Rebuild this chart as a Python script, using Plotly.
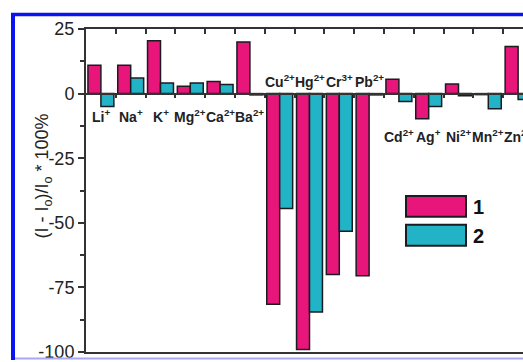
import plotly.graph_objects as go

ions = ["Li<sup>+</sup>", "Na<sup>+</sup>", "K<sup>+</sup>", "Mg<sup>2+</sup>", "Ca<sup>2+</sup>",
        "Ba<sup>2+</sup>", "Cu<sup>2+</sup>", "Hg<sup>2+</sup>", "Cr<sup>3+</sup>", "Pb<sup>2+</sup>",
        "Cd<sup>2+</sup>", "Ag<sup>+</sup>", "Ni<sup>2+</sup>", "Mn<sup>2+</sup>", "Zn<sup>2+</sup>"]
series1 = [11, 11, 20.5, 2.8, 4.7, 20, -81.5, -99, -70, -70.5, 5.6, -9.7, 3.7, -0.4, 18.2]
series2 = [-5, 6, 4.1, 4.1, 3.5, -0.5, -44.5, -84.5, -53.3, -0.5, -3.1, -5, -0.8, -5.9, -2.3]
label_y = [-8.5, -8.5, -8.5, -8.5, -8.5, -8.5, 5, 5, 5, 5, -16.5, -16.5, -16.5, -16.5, -16.5]
y_ticks = [25, 0, -25, -50, -75, -100]

xs = list(range(len(ions)))
W, H = 523, 362
L, R, T, B = 86, 0, 29, 8
pw, ph = W - L - R, H - T - B

def px(x):
    return (x - L) / pw

def py(y):
    return (H - B - y) / ph

pink = "#E8157B"
cyan = "#22B3C6"
edge = "#1b1b22"
font_fam = "Arial, Liberation Sans"

fig = go.Figure()
fig.add_trace(go.Bar(x=xs, y=series1, name="1", marker=dict(color=pink, line=dict(color=edge, width=1.5))))
fig.add_trace(go.Bar(x=xs, y=series2, name="2", marker=dict(color=cyan, line=dict(color=edge, width=1.5))))
fig.add_trace(go.Scatter(x=[-0.5], y=[0], xaxis="x2", mode="markers", marker=dict(opacity=0), hoverinfo="skip"))
fig.add_trace(go.Scatter(x=[-0.5], y=[0], xaxis="x3", mode="markers", marker=dict(opacity=0), hoverinfo="skip"))

xr = [-0.5, -0.5 + pw / 29.8]
bounds = [i + 0.5 for i in range(len(ions))]

for x, lab, yy in zip(xs, ions, label_y):
    fig.add_annotation(x=x, y=yy, text="<b>" + lab + "</b>", showarrow=False,
                       font=dict(family=font_fam, size=14, color="#222"),
                       xanchor="center", yanchor="middle")

shapes = []
shapes.append(dict(type="line", xref="paper", yref="paper", x0=px(13), x1=px(13), y0=py(13), y1=py(362),
                   line=dict(color="#0A14F0", width=4)))
shapes.append(dict(type="line", xref="paper", yref="paper", x0=px(11), x1=px(523), y0=py(14.5), y1=py(14.5),
                   line=dict(color="#0A14F0", width=3.5)))
shapes.append(dict(type="line", xref="paper", yref="paper", x0=px(15), x1=px(523), y0=py(360.5), y1=py(360.5),
                   line=dict(color="#A8A8F4", width=2)))
shapes.append(dict(type="rect", xref="paper", yref="paper", x0=px(406), x1=px(466), y0=py(197), y1=py(218),
                   fillcolor=pink, line=dict(color=edge, width=2)))
shapes.append(dict(type="rect", xref="paper", yref="paper", x0=px(406), x1=px(466), y0=py(226), y1=py(247),
                   fillcolor=cyan, line=dict(color=edge, width=2)))
fig.add_annotation(xref="paper", yref="paper", x=px(471), y=py(208), text="<b>1</b>", showarrow=False,
                   xanchor="left", font=dict(family=font_fam, size=20, color="#111"))
fig.add_annotation(xref="paper", yref="paper", x=px(471), y=py(237), text="<b>2</b>", showarrow=False,
                   xanchor="left", font=dict(family=font_fam, size=20, color="#111"))
fig.add_annotation(xref="paper", yref="paper", x=px(30), y=py(177),
                   text="(I - I<sub>o</sub>)/I<sub>o</sub> * 100%", textangle=-90, showarrow=False,
                   font=dict(family=font_fam, size=18, color="#222"))

fig.update_layout(
    width=W, height=H, margin=dict(l=L, r=R, t=T, b=B),
    paper_bgcolor="white", plot_bgcolor="white",
    barmode="group", bargap=0.13, bargroupgap=0, showlegend=False,
    shapes=shapes,
    xaxis=dict(range=xr, showticklabels=False, ticks="", showgrid=False, zeroline=False,
               showline=True, linecolor="#333", linewidth=2),
    xaxis2=dict(overlaying="x", side="top", anchor="y", range=xr, tickvals=bounds, ticks="inside",
                ticklen=5, tickwidth=1.5, tickcolor="#333", showticklabels=False, showgrid=False,
                zeroline=False, showline=True, linecolor="#333", linewidth=2),
    xaxis3=dict(overlaying="x", anchor="free", position=100 / 125, side="bottom", range=xr,
                tickvals=bounds, ticks="outside", ticklen=4, tickwidth=1.5, tickcolor="#333",
                showticklabels=False, showgrid=False, zeroline=False, showline=True,
                linecolor="#333", linewidth=1.5),
    yaxis=dict(range=[-100, 25], tickvals=y_ticks, ticktext=[str(v) for v in y_ticks],
               ticks="outside", ticklen=6, tickwidth=1.5, tickcolor="#333", ticklabeloverflow="allow",
               minor=dict(tickvals=[12.5, -12.5, -37.5, -62.5, -87.5], ticks="outside", ticklen=4,
                          tickwidth=1.5, tickcolor="#333"),
               showgrid=False, zeroline=False, showline=True, linecolor="#333", linewidth=2,
               tickfont=dict(family=font_fam, size=18, color="#222")),
)

fig.write_html("out.html", config={"displayModeBar": False},
               post_script="document.body.style.margin='0';document.body.style.overflow='hidden';")
